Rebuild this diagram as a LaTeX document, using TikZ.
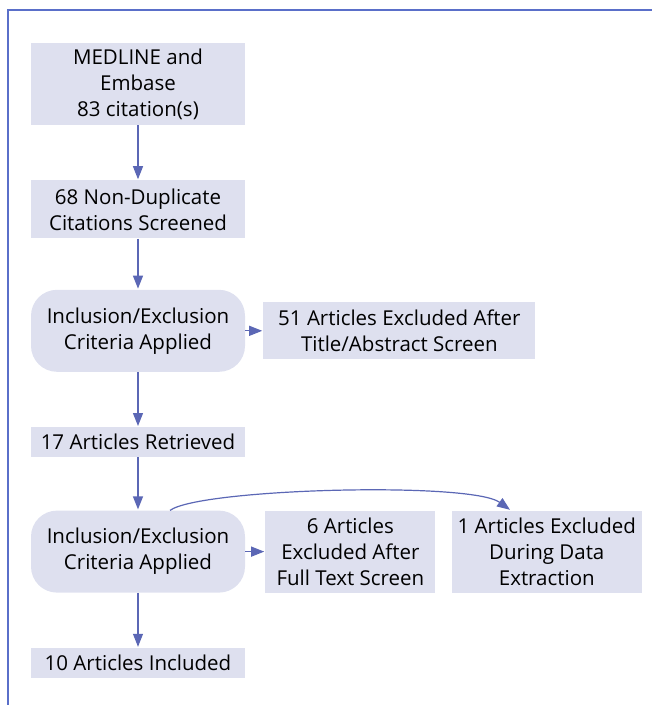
\documentclass[tikz,border=0pt]{standalone}
\usepackage{fontspec}
\setmainfont{Open Sans}
\usetikzlibrary{arrows.meta,positioning}
\definecolor{boxfill}{HTML}{DEE0EF}
\definecolor{linkblue}{HTML}{5B67B5}
\definecolor{frameblue}{HTML}{5A6FC9}

\begin{document}
\begin{tikzpicture}[
  x=1pt, y=1pt,
  box/.style={fill=boxfill, font=\fontsize{20.5}{26}\selectfont, align=center,
              minimum width=214pt, inner sep=1pt},
  crit/.style={box, rounded corners=26pt, minimum height=82pt},
  ar/.style={draw=linkblue, line width=1.2pt, shorten >=1pt,
             -{Triangle[length=13pt,width=10pt]}}
]
\useasboundingbox (0,0) rectangle (652,-705);
\draw[frameblue, line width=1.5pt] (8,-705) |- (652,-10);

\node[box, minimum height=82pt] (src) at (138,-84) {MEDLINE and\\Embase\\83 citation(s)};
\node[box, minimum height=58pt, below=55pt of src] (dup) {68 Non-Duplicate\\Citations Screened};
\node[crit, below=51pt of dup] (crit1) {Inclusion/Exclusion\\Criteria Applied};
\node[box, minimum width=272pt, minimum height=57pt, right=18pt of crit1] (excl1) {51 Articles Excluded After\\Title/Abstract Screen};
\node[box, minimum height=30pt, below=55pt of crit1] (ret) {17 Articles Retrieved};
\node[crit, below=53pt of ret] (crit2) {Inclusion/Exclusion\\Criteria Applied};
\node[box, minimum width=170pt, minimum height=82pt, right=20pt of crit2] (excl2) {6 Articles\\Excluded After\\Full Text Screen};
\node[box, minimum width=190pt, minimum height=82pt, right=16pt of excl2] (excl3) {1 Articles Excluded\\During Data\\Extraction};
\node[box, minimum height=30pt, below=55pt of crit2] (incl) {10 Articles Included};

\draw[ar] (src) -- (dup);
\draw[ar] (dup) -- (crit1);
\draw[ar] (crit1) -- (excl1);
\draw[ar] (crit1) -- (ret);
\draw[ar] (ret) -- (crit2);
\draw[ar] (crit2) -- (excl2);
\draw[ar] ([xshift=32pt]crit2.north) .. controls +(30,22) and +(-40,29) .. ([xshift=-36pt]excl3.north);
\draw[ar] (crit2) -- (incl);
\end{tikzpicture}
\end{document}
